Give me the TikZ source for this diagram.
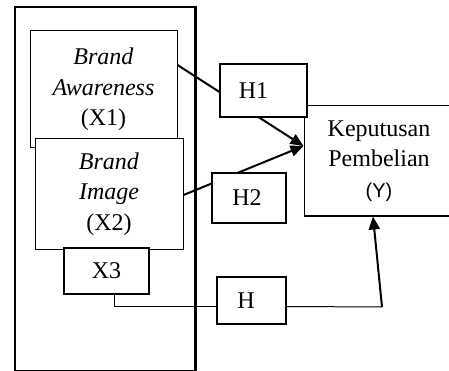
\documentclass[tikz,border=0pt]{standalone}
\usepackage{fontspec}
\setmainfont{Liberation Serif}
\newfontfamily\arialf{Liberation Sans}
\usetikzlibrary{arrows.meta}
\begin{document}
\begin{tikzpicture}[x=1pt,y=-1pt,
  box/.style={draw,fill=white,line width=1pt,inner sep=0pt,align=center,font=\fontsize{24}{30.5}\selectfont},
  hbox/.style={box,line width=1.3pt},
  conn/.style={line width=2pt},
  thinconn/.style={line width=1pt},
  tipped/.style={-{Triangle[length=13pt,width=11pt]}}]
\useasboundingbox (0,0) rectangle (449,371);
\clip (0,0) rectangle (449,371);
\node[draw,line width=2.5pt,minimum width=180.5pt,minimum height=364pt,inner sep=0pt] (outer) at (105.25,189) {};
\node[box,minimum width=147pt,minimum height=117pt] (ba) at (103.5,89.5) {\textit{Brand}\\\textit{Awareness}\\(X1)};
\node[box,minimum width=148pt,minimum height=110pt] (bi) at (109,194) {\textit{Brand}\\\textit{Image}\\(X2)};
\node[hbox,minimum width=85pt,minimum height=46pt] (x3) at (106.5,271) {X3};
\node[box,minimum width=150pt,minimum height=110pt] (y) at (379,161) {Keputusan\\Pembelian\\{\arialf\fontsize{20}{30.5}\selectfont(Y)}};
\draw[conn,tipped] ([yshift=24.5pt]ba.east) -- ([yshift=15pt]y.west);
\draw[conn,tipped] ([yshift=-1pt]bi.east) -- ([yshift=15pt]y.west);
\node[hbox,minimum width=87pt,minimum height=53pt] (h1) at (263.5,90.5) {H1\hspace*{20pt}};
\node[hbox,minimum width=74pt,minimum height=50pt] (h2) at (249,198) {H2\hspace*{4pt}};
\node[hbox,minimum width=69pt,minimum height=47pt] (h) at (251.5,300.5) {H\hspace*{11pt}};
\coordinate (hc) at (382,307);
\draw[thinconn] ([xshift=8pt]x3.south) |- ([yshift=-6pt]h.west);
\draw[thinconn] ([yshift=-6pt]h.east) -- (hc);
\draw[conn,tipped] (hc) -- ([xshift=-6pt]y.south);
\end{tikzpicture}
\end{document}
